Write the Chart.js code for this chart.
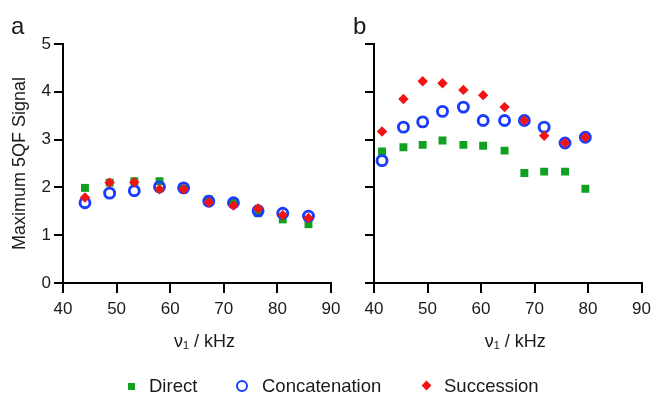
<!DOCTYPE html>
<html>
<head>
<meta charset="utf-8">
<script src="https://cdn.jsdelivr.net/npm/chart.js@4/dist/chart.umd.min.js"></script>
<style>
  html, body { margin:0; padding:0; background:#fff; width:657px; height:397px; overflow:hidden;
    font-family:"Liberation Sans", Arial, Helvetica, sans-serif; color:#1a1a1a; }
  canvas { position:absolute; top:0; }
  #ca { left:0; }
  #cb { left:340px; }
  .panel { position:absolute; font-size:24px; line-height:24px; color:#1a1a1a; }
  .leg { position:absolute; top:375px; font-size:18.5px; line-height:22px; color:#1a1a1a; white-space:nowrap; }
  .mk { position:absolute; box-sizing:border-box; }
</style>
</head>
<body>
<canvas id="ca" width="352" height="397"></canvas>
<canvas id="cb" width="317" height="397"></canvas>
<div class="panel" style="left:11px; top:14px;">a</div>
<div class="panel" style="left:353px; top:14px;">b</div>

<div class="mk" style="left:128px; top:383px; width:7px; height:7px; background:#12a020;"></div>
<div class="leg" style="left:149px;">Direct</div>
<div class="mk" style="left:236px; top:380px; width:12px; height:12px; border:2.8px solid #1a3cff; border-radius:50%;"></div>
<div class="leg" style="left:262px;">Concatenation</div>
<div class="mk" style="left:423px; top:382px; width:7px; height:7px; background:#f21414; transform:rotate(45deg);"></div>
<div class="leg" style="left:444px;">Succession</div>

<script>
// ---- data ----
const seriesNames = ['Direct', 'Concatenation', 'Succession'];
const xTicksA = [40, 50, 60, 70, 80, 90];
const yTicks = [0, 1, 2, 3, 4, 5];

// panel a
const aFreq = [44.1, 48.7, 53.3, 58.0, 62.5, 67.2, 71.8, 76.4, 81.0, 85.8];
const aDirect = [1.99, 2.10, 2.13, 2.13, 1.98, 1.75, 1.68, 1.46, 1.33, 1.23];
const aConcat = [1.68, 1.88, 1.93, 2.01, 1.99, 1.71, 1.68, 1.51, 1.46, 1.40];
const aSucc   = [1.79, 2.10, 2.11, 1.96, 1.96, 1.69, 1.62, 1.56, 1.42, 1.36];

// panel b
const bFreq = [41.5, 45.5, 49.1, 52.8, 56.7, 60.4, 64.4, 68.1, 71.8, 75.7, 79.5];
const bDirect = [2.75, 2.84, 2.89, 2.98, 2.89, 2.87, 2.77, 2.30, 2.33, 2.33, 1.97];
const bConcat = [2.56, 3.26, 3.37, 3.59, 3.68, 3.40, 3.40, 3.40, 3.26, 2.93, 3.05];
const bSucc   = [3.17, 3.85, 4.22, 4.18, 4.04, 3.93, 3.68, 3.40, 3.08, 2.93, 3.05];

// ---- styling ----
const FONT = '"Liberation Sans", Arial, Helvetica, sans-serif';
const TXT = '#1a1a1a';
const GREEN = '#12a020', BLUE = '#1a3cff', RED = '#f21414';

function pts(xs, ys) { return xs.map((x, i) => ({ x: x, y: ys[i] })); }

function datasets(xs, d, c, s) {
  return [
    { label: seriesNames[0], data: pts(xs, d), order: 2, pointStyle: 'rect', pointRadius: 5.6,
      backgroundColor: GREEN, borderColor: GREEN, borderWidth: 0, showLine: false },
    { label: seriesNames[1], data: pts(xs, c), order: 1, pointStyle: 'circle', pointRadius: 5,
      backgroundColor: 'rgba(0,0,0,0)', borderColor: BLUE, borderWidth: 2.9, showLine: false },
    { label: seriesNames[2], data: pts(xs, s), order: 0, pointStyle: 'rectRot', pointRadius: 5.2,
      backgroundColor: RED, borderColor: RED, borderWidth: 0, showLine: false }
  ];
}

function options(showY, yWidth, padRight) {
  return {
    responsive: false,
    animation: false,
    events: [],
    layout: { padding: { left: 0, right: padRight, top: 44, bottom: 44 } },
    plugins: { legend: { display: false }, tooltip: { enabled: false } },
    scales: {
      x: {
        type: 'linear', min: xTicksA[0], max: xTicksA[xTicksA.length - 1],
        afterBuildTicks(s) { s.ticks = xTicksA.map(v => ({ value: v })); },
        ticks: { color: TXT, font: { size: 17, family: FONT }, padding: 6, maxRotation: 0, autoSkip: false },
        grid: { drawOnChartArea: false, drawTicks: true, tickLength: 10, color: '#000', lineWidth: 2 },
        border: { display: true, color: '#000', width: 2 },
        title: { display: true, text: '   ν\u2081 / kHz', color: TXT, font: { size: 18, family: FONT }, padding: 0 },
        afterFit(s) { s.height = 70; }
      },
      y: {
        type: 'linear', min: yTicks[0], max: yTicks[yTicks.length - 1],
        afterBuildTicks(s) { s.ticks = yTicks.map(v => ({ value: v })); },
        ticks: { color: TXT, font: { size: 17, family: FONT }, padding: 3,
                 callback: showY ? (v => String(v)) : (() => '') },
        grid: { drawOnChartArea: false, drawTicks: true, tickLength: 9, color: '#000', lineWidth: 2 },
        border: { display: true, color: '#000', width: 2 },
        title: { display: showY, text: 'Maximum 5QF Signal', color: TXT, font: { size: 18, family: FONT },
                 padding: { top: 9, bottom: 0 } },
        afterFit(s) { s.width = yWidth; }
      }
    }
  };
}

new Chart(document.getElementById('ca'), {
  type: 'scatter',
  data: { datasets: datasets(aFreq, aDirect, aConcat, aSucc) },
  options: options(true, 63, 21)
});
new Chart(document.getElementById('cb'), {
  type: 'scatter',
  data: { datasets: datasets(bFreq, bDirect, bConcat, bSucc) },
  options: options(false, 34, 11)
});
</script>
</body>
</html>
